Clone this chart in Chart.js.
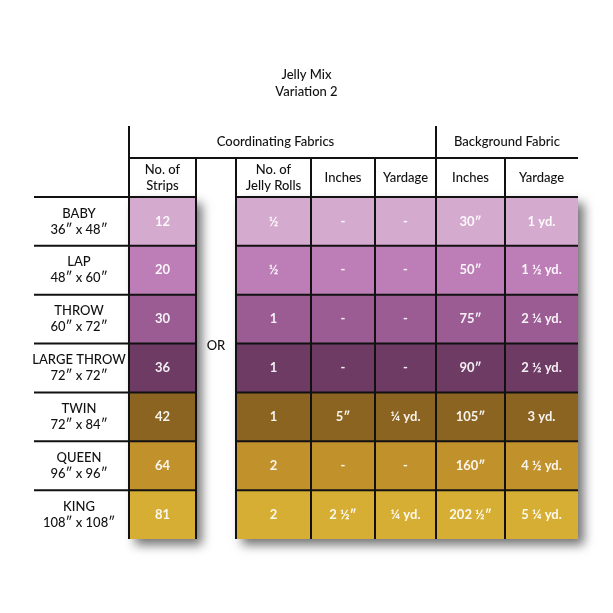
<!DOCTYPE html>
<html>
<head>
<meta charset="utf-8">
<script src="https://cdn.jsdelivr.net/npm/chart.js@4.4.1/dist/chart.umd.min.js"></script>
<style>
  html, body { margin: 0; padding: 0; background: #fff; }
  #wrap { width: 613px; height: 613px; position: relative; }
</style>
</head>
<body>
<div id="wrap"><canvas id="jellyChart"></canvas></div>
<script>
// table data
const sizes = ['BABY', 'LAP', 'THROW', 'LARGE THROW', 'TWIN', 'QUEEN', 'KING'];
const dims = ['36″ x 48″', '48″ x 60″', '60″ x 72″', '72″ x 72″', '72″ x 84″', '96″ x 96″', '108″ x 108″'];
const strips = ['12', '20', '30', '36', '42', '64', '81'];
const jellyRolls = ['½', '½', '1', '1', '1', '2', '2'];
const coordInches = ['-', '-', '-', '-', '5″', '-', '2 ½″'];
const coordYardage = ['-', '-', '-', '-', '¼ yd.', '-', '¼ yd.'];
const bgInches = ['30″', '50″', '75″', '90″', '105″', '160″', '202 ½″'];
const bgYardage = ['1 yd.', '1 ½ yd.', '2 ¼ yd.', '2 ½ yd.', '3 yd.', '4 ½ yd.', '5 ¼ yd.'];
const rowColors = ['#d5aacf', '#bd7db6', '#9b5b93', '#6d3b64', '#8b6421', '#c1912b', '#d6ae33'];

// column layout (widths on the column scale), null = the "OR" gap
const columns = [strips, null, jellyRolls, coordInches, coordYardage, bgInches, bgYardage];
const colWidths = [67, 40, 75, 64, 61, 69, 73];
const subHeaders = [['No. of', 'Strips'], null, ['No. of', 'Jelly Rolls'], ['Inches'], ['Yardage'], ['Inches'], ['Yardage']];

const FONT = 'Lato, "Noto Sans", sans-serif';
const LINE = '#111';

const cellBox = (chart, dsIndex, row) => {
    const el = chart.getDatasetMeta(dsIndex).data[row];
    const p = el.getProps(['x', 'y', 'base', 'height'], true);
    return { left: Math.min(p.base, p.x), right: Math.max(p.base, p.x), top: p.y - p.height / 2, bottom: p.y + p.height / 2, cy: p.y };
};

const tablePlugin = {
    id: 'tableDecor',
    beforeDatasetsDraw(chart) {
        // soft drop shadow behind the two coloured blocks
        const ctx = chart.ctx;
        const last = sizes.length - 1;
        ctx.save();
        ctx.shadowColor = 'rgba(0,0,0,0.55)';
        ctx.shadowBlur = 10;
        ctx.shadowOffsetX = 6;
        ctx.shadowOffsetY = 6;
        ctx.fillStyle = '#777';
        [[0, 0], [2, 6]].forEach(([a, b]) => {
            const tl = cellBox(chart, a, 0);
            const br = cellBox(chart, b, last);
            ctx.fillRect(tl.left, tl.top, br.right - tl.left, br.bottom - tl.top);
        });
        ctx.restore();
    },
    afterDatasetsDraw(chart) {
        const ctx = chart.ctx;
        const area = chart.chartArea;
        const last = sizes.length - 1;
        const subTop = area.top - 39;
        const groupTop = area.top - 71;
        const labelLeft = area.left - 95;
        const bottom = cellBox(chart, 0, last).bottom;

        const line = (x1, y1, x2, y2) => {
            ctx.beginPath();
            ctx.moveTo(x1, y1);
            ctx.lineTo(x2, y2);
            ctx.stroke();
        };

        ctx.save();
        ctx.strokeStyle = LINE;
        ctx.lineWidth = 2;

        // horizontal rules on top of each row
        const stripsBox = cellBox(chart, 0, 0);
        const jellyBox = cellBox(chart, 2, 0);
        for (let r = 0; r <= last; r++) {
            const y = cellBox(chart, 0, r).top;
            line(labelLeft, y, stripsBox.right, y);
            line(jellyBox.left, y, area.right, y);
        }
        line(area.left, subTop, area.right, subTop);

        // vertical rules
        const bgLeft = cellBox(chart, 5, 0).left;
        line(area.left, groupTop, area.left, bottom);
        line(bgLeft, groupTop, bgLeft, bottom);
        [0, 2, 3, 4, 5].forEach(i => {
            const b = cellBox(chart, i, 0);
            line(b.right, subTop, b.right, bottom);
            if (i === 2) line(b.left, subTop, b.left, bottom);
        });

        ctx.textAlign = 'center';
        ctx.textBaseline = 'middle';

        // title
        ctx.fillStyle = '#111';
        ctx.font = '500 13px ' + FONT;
        ctx.fillText('Jelly Mix', chart.width / 2, 75);
        ctx.fillText('Variation 2', chart.width / 2, 92);

        // group headers
        const groupY = (groupTop + subTop) / 2;
        ctx.fillText('Coordinating Fabrics', (area.left + bgLeft) / 2 - 7, groupY);
        ctx.fillText('Background Fabric', (bgLeft + area.right) / 2, groupY);

        // sub headers
        const subY = (subTop + area.top) / 2;
        subHeaders.forEach((lines, i) => {
            if (!lines) return;
            const b = cellBox(chart, i, 0);
            const cx = (b.left + b.right) / 2;
            if (lines.length === 1) ctx.fillText(lines[0], cx, subY);
            else {
                ctx.fillText(lines[0], cx, subY - 8);
                ctx.fillText(lines[1], cx, subY + 8);
            }
        });

        // row labels
        sizes.forEach((s, r) => {
            const b = cellBox(chart, 0, r);
            const cx = area.left - 50;
            ctx.fillText(s, cx, b.cy - 8);
            ctx.fillText(dims[r], cx, b.cy + 8);
        });

        // "OR" in the gap column, level with the THROW / LARGE THROW rule
        const gap = cellBox(chart, 1, 3);
        ctx.fillText('OR', (gap.left + gap.right) / 2, gap.top + 2);

        // cell values
        ctx.fillStyle = 'rgba(255,255,255,0.92)';
        ctx.font = 'bold 13px ' + FONT;
        columns.forEach((vals, i) => {
            if (!vals) return;
            vals.forEach((v, r) => {
                const b = cellBox(chart, i, r);
                ctx.fillText(v, (b.left + b.right) / 2, b.cy);
            });
        });
        ctx.restore();
    }
};

const datasets = columns.map((vals, i) => ({
    label: subHeaders[i] ? subHeaders[i].join(' ') : 'OR',
    data: sizes.map(() => colWidths[i]),
    backgroundColor: vals ? rowColors : 'rgba(0,0,0,0)',
    borderWidth: 0,
    barPercentage: 1,
    categoryPercentage: 1,
    stack: 'cols'
}));

new Chart(document.getElementById('jellyChart'), {
    type: 'bar',
    data: { labels: sizes, datasets },
    options: {
        indexAxis: 'y',
        responsive: true,
        maintainAspectRatio: false,
        animation: false,
        layout: { padding: { left: 129, right: 35, top: 197, bottom: 74 } },
        scales: {
            x: { stacked: true, min: 0, max: colWidths.reduce((a, b) => a + b, 0), display: false },
            y: { stacked: true, display: false }
        },
        plugins: { legend: { display: false }, tooltip: { enabled: false } }
    },
    plugins: [tablePlugin]
});
</script>
</body>
</html>
